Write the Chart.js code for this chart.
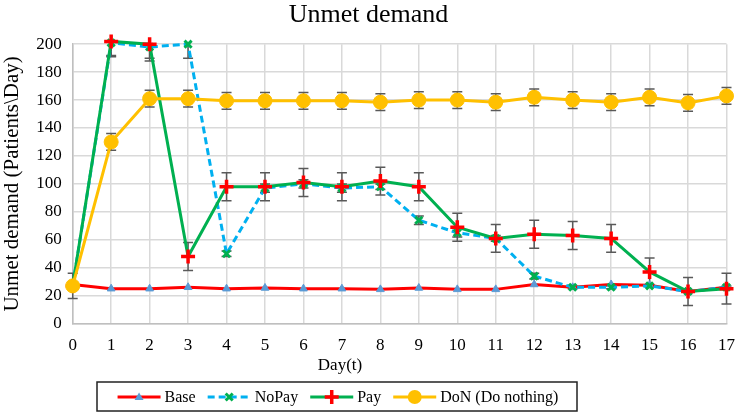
<!DOCTYPE html>
<html>
<head>
<meta charset="utf-8">
<script src="https://cdn.jsdelivr.net/npm/chart.js@4"></script>
<style>
    html, body { margin: 0; padding: 0; background: #fff; }
    #wrap { width: 747px; height: 417px; }
</style>
</head>
<body>
<div id="wrap"><canvas id="myChart" width="747" height="417"></canvas></div>
<script>
"use strict";

const days = ['0', '1', '2', '3', '4', '5', '6', '7', '8', '9', '10', '11', '12', '13', '14', '15', '16', '17'];

const baseValues = [28, 25, 25, 26, 25, 25.5, 25, 25, 24.5, 25.5, 24.5, 24.5, 28, 26, 28, 27.5, 23, 26];
const noPayValues = [27, 201, 198, 200, 50, 97, 100, 97, 98, 74, 65, 61, 34, 26, 26, 27, 23, 26];
const payValues = [27, 202, 200, 48, 98, 98, 101, 98, 102, 98, 69, 61, 64, 63, 61, 37, 23, 25];
const donValues = [27, 130, 161, 161, 159.5, 159.5, 159.5, 159.5, 158.5, 160, 160, 158.5, 162, 160, 158.5, 162, 158, 163];

const noPayErrors = [2, 10, 10, 10, 2, 3, 3, 3, 2, 3, 3, 2, 2, 1, 1, 1, 1, 1];
const payErrors = [9, 10, 10, 10, 10, 10, 10, 10, 10, 10, 10, 10, 10, 10, 10, 10, 10, 11];
const donErrors = [0, 6, 6, 6, 6, 6, 6, 6, 6, 6, 6, 6, 6, 6, 6, 6, 6, 6];

const serif = "'Liberation Serif', 'Times New Roman', serif";

// error bars, drawn under the lines
const errorBars = {
    id: 'errorBars',
    beforeDatasetsDraw(chart) {
        const ctx = chart.ctx;
        const area = chart.chartArea;
        const xs = chart.scales.x;
        const ys = chart.scales.y;
        ctx.save();
        ctx.beginPath();
        ctx.rect(area.left - 10, area.top - 1, area.right - area.left + 20, area.bottom - area.top + 2);
        ctx.clip();
        ctx.strokeStyle = '#595959';
        ctx.lineWidth = 1.5;
        chart.data.datasets.forEach(ds => {
            if (!ds.errors) return;
            ds.data.forEach((v, i) => {
                const e = ds.errors[i];
                if (!e) return;
                const x = xs.getPixelForValue(i);
                const yTop = ys.getPixelForValue(v + e);
                const yBot = ys.getPixelForValue(v - e);
                ctx.beginPath();
                ctx.moveTo(x, yTop);
                ctx.lineTo(x, yBot);
                ctx.moveTo(x - 5, yTop);
                ctx.lineTo(x + 5, yTop);
                ctx.moveTo(x - 5, yBot);
                ctx.lineTo(x + 5, yBot);
                ctx.stroke();
            });
        });
        ctx.restore();
    }
};

function drawMarker(ctx, ds, x, y) {
    ctx.save();
    ctx.fillStyle = ds.pointBackgroundColor;
    ctx.strokeStyle = ds.pointBorderColor;
    ctx.lineWidth = ds.pointBorderWidth;
    const r = ds.pointRadius;
    ctx.beginPath();
    if (ds.pointStyle === 'triangle') {
        const h = r * 1.5;
        ctx.moveTo(x, y - h * 0.66);
        ctx.lineTo(x + r, y + h * 0.45);
        ctx.lineTo(x - r, y + h * 0.45);
        ctx.closePath();
        ctx.fill();
    } else if (ds.pointStyle === 'crossRot') {
        const d = r * 0.7;
        ctx.moveTo(x - d, y - d); ctx.lineTo(x + d, y + d);
        ctx.moveTo(x + d, y - d); ctx.lineTo(x - d, y + d);
        ctx.stroke();
    } else if (ds.pointStyle === 'cross') {
        ctx.moveTo(x - r, y); ctx.lineTo(x + r, y);
        ctx.moveTo(x, y - r); ctx.lineTo(x, y + r);
        ctx.stroke();
    } else {
        ctx.arc(x, y, r, 0, Math.PI * 2);
        ctx.fill();
    }
    ctx.restore();
}

// boxed legend and x title, placed like the original
const boxLegend = {
    id: 'boxLegend',
    afterDraw(chart) {
        const ctx = chart.ctx;
        ctx.save();
        ctx.fillStyle = '#000';
        ctx.font = '17px ' + serif;
        ctx.textAlign = 'center';
        ctx.textBaseline = 'middle';
        ctx.fillText('Day(t)', 340, 366);

        ctx.font = '16px ' + serif;
        const sample = 43;
        const gap = 4;
        const spacing = 12;
        const order = [0, 1, 2, 3];
        const widths = order.map(i => sample + gap + ctx.measureText(chart.data.datasets[i].label).width);
        const total = widths.reduce((a, b) => a + b, 0) + spacing * (order.length - 1);
        const cx = 338;
        const cy = 397;
        let x = cx - total / 2;

        ctx.strokeStyle = '#222';
        ctx.lineWidth = 1.5;
        ctx.strokeRect(97, 382, 480, 29);

        ctx.textAlign = 'left';
        order.forEach((i, k) => {
            const ds = chart.data.datasets[i];
            ctx.save();
            ctx.strokeStyle = ds.borderColor;
            ctx.lineWidth = ds.borderWidth;
            ctx.setLineDash(ds.borderDash || []);
            ctx.beginPath();
            ctx.moveTo(x, cy);
            ctx.lineTo(x + sample, cy);
            ctx.stroke();
            ctx.restore();
            drawMarker(ctx, ds, x + sample / 2, cy);
            ctx.fillStyle = '#000';
            ctx.fillText(ds.label, x + sample + gap, cy + 1);
            x += widths[k] + spacing;
        });
        ctx.restore();
    }
};

function CreateChart() {
    const ctx = document.getElementById('myChart').getContext('2d');
    const myChart = new Chart(ctx, {
        type: 'line',
        data: {
            labels: days,
            datasets: [{
                label: 'Base',
                data: baseValues,
                borderColor: '#ff0000',
                borderWidth: 3,
                pointStyle: 'triangle',
                pointRadius: 4.5,
                pointBackgroundColor: '#5b9bd5',
                pointBorderColor: '#5b9bd5',
                pointBorderWidth: 1,
                clip: false,
                order: 4
            }, {
                label: 'NoPay',
                data: noPayValues,
                errors: noPayErrors,
                borderColor: '#00b0f0',
                borderWidth: 3,
                borderDash: [7, 4],
                pointStyle: 'crossRot',
                pointRadius: 5,
                pointBackgroundColor: '#00b050',
                pointBorderColor: '#00b050',
                pointBorderWidth: 3,
                clip: false,
                order: 3
            }, {
                label: 'Pay',
                data: payValues,
                errors: payErrors,
                borderColor: '#00b050',
                borderWidth: 3,
                pointStyle: 'cross',
                pointRadius: 7,
                pointBackgroundColor: '#ff0000',
                pointBorderColor: '#ff0000',
                pointBorderWidth: 3.5,
                clip: false,
                order: 2
            }, {
                label: 'DoN (Do nothing)',
                data: donValues,
                errors: donErrors,
                borderColor: '#ffc000',
                borderWidth: 3,
                pointStyle: 'circle',
                pointRadius: 7,
                pointBackgroundColor: '#ffc000',
                pointBorderColor: '#ffc000',
                pointBorderWidth: 1,
                clip: false,
                order: 1
            }]
        },
        options: {
            responsive: false,
            animation: false,
            layout: {
                padding: { left: 0, right: 10, top: 0, bottom: 49 }
            },
            plugins: {
                legend: { display: false },
                tooltip: { enabled: false },
                title: {
                    display: true,
                    text: 'Unmet demand',
                    color: '#000',
                    font: { family: serif, size: 26, weight: 'normal' },
                    padding: { top: 0, bottom: 13 }
                }
            },
            scales: {
                x: {
                    grid: { color: '#d9d9d9', lineWidth: 1.5, drawTicks: false },
                    border: { color: '#bfbfbf', width: 1.5 },
                    ticks: {
                        color: '#000',
                        font: { family: serif, size: 17 },
                        padding: 12,
                        maxRotation: 0,
                        autoSkip: false
                    }
                },
                y: {
                    min: 0,
                    max: 200,
                    grid: { color: '#d9d9d9', lineWidth: 1.5, drawTicks: false },
                    border: { color: '#bfbfbf', width: 1.5 },
                    ticks: {
                        stepSize: 20,
                        color: '#000',
                        font: { family: serif, size: 17 },
                        padding: 11
                    },
                    title: {
                        display: true,
                        text: 'Unmet demand (Patients\\Day)',
                        color: '#000',
                        font: { family: serif, size: 21 },
                        padding: { top: 0, bottom: 0 }
                    }
                }
            }
        },
        plugins: [errorBars, boxLegend]
    });
}

window.addEventListener('load', () => {
    CreateChart();
});
</script>
</body>
</html>
